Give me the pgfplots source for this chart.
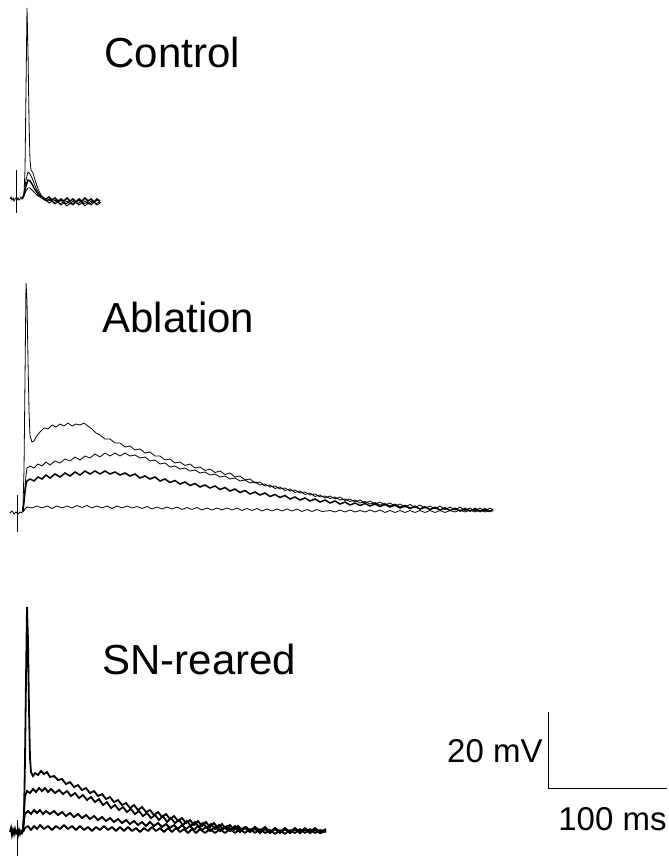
\documentclass[border=0pt]{standalone}
\usepackage{fontspec}
\setmainfont{Liberation Sans}
\usepackage{pgfplots}
\pgfplotsset{compat=1.18}
\begin{document}
\begin{tikzpicture}
\begin{axis}[
  scale only axis, width=334.5pt, height=431pt,
  xmin=0, xmax=669, ymin=0, ymax=862, y dir=reverse,
  hide axis, clip=false,
  cycle list={{black, solid, mark=none, line width=0.75pt, line join=round}},
]
\path[use as bounding box] (rel axis cs:0,0) rectangle (rel axis cs:1,1);
% ---------------- Control ----------------
\addplot coordinates {(16,170)(16,213)};
\addplot coordinates {(10,199)(11,197)(12,200)(13,198)(14,201)(15,199)(16,198)(17,200)(18,198)(19,200)(20,199)(21,197)(22,199)(23,198)(24,194)(25,170)(26,90)(27,8)(28,50)(29,120)(30,160)(31,170)(33,173)(35,180)(37,186)(39,191)(41,195)(43,197)(45,199)(48,201)(51,200)(54,203)(57,201)(60,204)(63,202)(66,204)(69,201)(72,204)(75,202)(78,204)(81,201)(84,204)(87,202)(90,204)(93,201)(96,204)(99,202)(101,203)};
\addplot coordinates {(22,199)(24,194)(26,180)(28,172)(30,174)(32,178)(34,183)(36,188)(38,192)(40,195)(43,198)(46,200)(49,203)(52,201)(55,204)(58,202)(61,205)(64,203)(67,206)(70,203)(73,205)(76,202)(79,205)(82,203)(85,206)(88,203)(91,205)(94,202)(97,205)(100,203)};
\addplot coordinates {(22,199)(24,195)(26,186)(28,180)(30,181)(32,184)(34,188)(36,191)(38,194)(40,196)(43,198)(46,199)(49,197)(52,200)(55,198)(58,201)(61,199)(64,201)(67,198)(70,201)(73,199)(76,202)(79,199)(82,201)(85,198)(88,201)(91,199)(94,202)(97,199)(100,201)};
\addplot coordinates {(22,199)(24,196)(26,191)(28,188)(30,188)(32,190)(34,192)(36,194)(38,196)(40,197)(43,199)(46,201)(49,199)(52,202)(55,200)(58,203)(61,200)(64,203)(67,201)(70,204)(73,201)(76,203)(79,200)(82,203)(85,201)(88,204)(91,201)(94,203)(97,200)(100,202)};
% ---------------- Ablation ----------------
\addplot coordinates {(17,495)(17,532)};
\addplot coordinates {(10,513)(12,511)(14,514)(16,512)(18,514)(20,512)(22,513)(23,506)(24,470)(25,380)(26,283)(27,300)(28,360)(29,410)(30,436)(32,442)(34,441)(36,437)(40,432)(44,428)(48,429)(52,425)(56,427)(60,424)(64,426)(68,423)(72,426)(76,424)(80,425)(84,423)(88,426)(92,429)(96,433)(100,435)(105,439)(110,439)(115,443)(120,443)(125,447)(130,446)(135,450)(140,449)(145,453)(150,452)(155,456)(160,456)(165,460)(170,459)(175,463)(180,462)(185,465.5)(190,464)(195,468)(200,467)(205,470.5)(210,469)(215,472.5)(220,471)(225,474.5)(230,473)(235,477)(240,476)(245,480)(250,479)(255,483)(260,482)(265,486)(270,485)(275,488.5)(280,487)(285,490.5)(290,489)(295,492.5)(300,491)(305,494.5)(310,493)(315,496.5)(320,495)(325,498)(330,496)(335,499)(340,497)(345,500.5)(350,499)(355,502)(360,500)(365,503)(370,501)(375,504)(380,502)(385,505)(390,503)(395,506)(400,504)(405,507)(410,504.5)(415,507.5)(420,505)(425,508)(430,506)(435,509)(440,506)(445,509.5)(450,507)(455,510)(460,507)(465,510.5)(470,508)(475,511)(480,508)(485,511)(490,508)(493,510)};
\addplot coordinates {(23,510)(24,500)(25,488)(26,475)(27,468)(30,466)(34,468)(38,464)(42,466)(46,462)(50,465)(55,461)(60,463)(65,459)(70,461)(75,457)(80,460)(85,456)(90,458)(95,454)(100,457)(105,453)(110,456)(115,453)(120,456)(125,453)(130,456)(135,455)(140,458)(145,457)(150,461)(155,460)(160,464)(165,463)(170,467)(175,466)(180,469)(185,468)(190,471)(195,470)(200,473)(205,472)(210,475)(215,474)(220,477)(225,476)(230,479)(235,478)(240,481)(245,480)(250,483)(255,482)(260,485)(265,484)(270,487)(275,486)(280,489)(285,488)(290,491)(295,490)(300,493)(305,492)(310,495)(315,494)(320,497)(325,496)(330,498.5)(335,497)(340,500)(345,499)(350,501.5)(355,500)(360,503)(365,501.5)(370,504)(375,502.5)(380,505)(385,503.5)(390,506)(395,504)(400,507)(405,505)(410,508)(415,506)(420,509)(425,506.5)(430,509.5)(435,507)(440,510)(445,507.5)(450,510.5)(455,508)(460,511)(465,508)(470,511)(475,508)(480,511)(485,508.5)(490,511)(493,509)};
\addplot coordinates {(23,511)(24,502)(25,492)(26,484)(27,481)(30,479)(34,481)(38,477)(42,479)(46,475)(50,478)(55,474)(60,477)(65,473)(70,476)(75,472)(80,475)(85,471)(90,474)(95,471)(100,474)(105,471)(110,474)(115,472)(120,475)(125,473)(130,476)(135,474)(140,478)(145,476)(150,479)(155,477)(160,481)(165,479)(170,482.5)(175,480.5)(180,484)(185,482)(190,485.5)(195,483.5)(200,487)(205,485)(210,488)(215,486)(220,489.5)(225,487.5)(230,491)(235,489)(240,492.5)(245,490.5)(250,494)(255,492)(260,495)(265,493)(270,496.5)(275,494.5)(280,497.5)(285,495.5)(290,499)(295,497)(300,500)(305,498)(310,501)(315,499)(320,502)(325,500)(330,503)(335,501)(340,504)(345,502)(350,505)(355,503)(360,505.5)(365,503.5)(370,506)(375,504)(380,506.5)(385,504.5)(390,507)(395,505)(400,508)(405,506)(410,508.5)(415,506.5)(420,509)(425,507)(430,509.5)(435,507.5)(440,510)(445,508)(450,510.5)(455,508.5)(460,511)(465,509)(470,511)(475,509)(480,511.5)(485,509.5)(490,511.5)(493,510)};
\addplot coordinates {(23,512)(25,509)(27,507)(32,508)(37,506)(42,508)(47,506)(52,508.5)(57,506)(62,508)(67,506)(72,508)(77,505.5)(82,507.5)(87,505.5)(92,508)(97,506)(102,508)(107,506)(112,508.5)(117,506)(122,508)(127,506)(132,508)(137,506.5)(142,508.5)(147,506.5)(152,509)(157,507)(162,509)(167,507)(172,509)(177,507)(182,509.5)(187,507.5)(192,509.5)(197,507.5)(202,510)(207,508)(212,510)(217,508)(222,510)(227,508)(232,510)(237,508)(242,510.5)(247,508.5)(252,510.5)(257,508.5)(262,511)(267,509)(272,511)(277,509)(282,511)(287,509)(292,511)(297,509)(302,511.5)(307,509.5)(312,511.5)(317,509.5)(322,511.5)(330,510.5)(335,512)(340,510)(345,512)(350,510)(355,512)(360,510.5)(365,512)(370,510)(375,512)(380,510)(385,512.5)(390,510.5)(395,512.5)(400,510.5)(405,512.5)(410,510.5)(415,512.5)(420,510.5)(425,512.5)(430,510.5)(435,512.5)(440,510.5)(445,512.5)(450,510.5)(455,512)(460,510)(465,512)(470,510)(475,512)(480,510)(485,512)(490,510.5)(493,511)};
% ---------------- SN-reared ----------------
\addplot coordinates {(17,820)(17,856)};
\addplot+[line width=0.9pt] coordinates {(10,832)(11,828)(12,835)(13,830)(14,834)(15,829)(16,833)(17,831)(18,835)(19,830)(20,834)(21,831)(22,833)(23,830)(24,815)(25,760)(26,680)(27,607)(28,640)(29,710)(30,758)(31,772)(33,776)(35,773)(38,775)(41,771)(44,774)(47,772)(50,777)(54,776)(58,780)(62,779)(66,784)(70,782)(74,787)(78,785)(82,790)(86,788)(90,793)(94,791)(98,796)(102,794)(106,799)(110,797)(114,802)(118,800)(122,805)(126,803)(130,808)(134,805)(138,810)(142,807)(146,812)(150,810)(154,815)(158,812)(162,817)(166,814)(170,819)(174,816)(178,821)(182,818)(186,823)(190,820)(194,825)(198,821)(202,826)(206,822)(210,827)(214,823)(218,828)(222,824)(226,829)(230,825)(234,830)(238,826)(242,830)(246,827)(250,831)(255,827)(260,831)(265,827)(270,832)(275,828)(280,832)(285,828)(290,832)(295,828)(300,832)(305,828)(310,832)(315,828)(320,832)(326,829)};
\addplot+[line width=0.9pt] coordinates {(23,831)(24,812)(25,796)(27,791)(30,793)(33,789)(36,792)(39,788)(42,791)(45,788)(48,792)(51,789)(55,793)(59,790)(63,794)(67,791)(71,796)(75,793)(79,798)(83,795)(87,800)(91,797)(95,802)(99,799)(103,805)(107,802)(111,808)(115,805)(119,810)(123,807)(127,812)(131,809)(135,814)(139,811)(143,816)(147,813)(151,818)(155,815)(159,820)(163,816)(167,822)(171,818)(175,823)(179,820)(183,825)(187,821)(191,826)(195,822)(199,827)(203,823)(207,828)(211,824)(215,829)(219,825)(223,829)(227,826)(231,830)(235,826)(240,830)(245,827)(250,831)(255,827)(260,831)(265,828)(270,832)(275,828)(280,832)(285,829)(290,833)(295,829)(300,833)(305,829)(310,833)(315,829)(320,833)(326,830)};
\addplot+[line width=0.9pt] coordinates {(23,831)(24,820)(25,814)(28,811)(31,814)(34,810)(37,813)(40,810)(43,814)(46,811)(50,814)(54,811)(58,815)(62,812)(66,816)(70,813)(74,817)(78,814)(82,818)(86,815)(90,819)(94,816)(98,820)(102,817)(106,821)(110,818)(114,822)(118,819)(122,823)(126,820)(130,824)(134,821)(138,825)(142,822)(146,826)(150,822)(154,826)(158,823)(162,827)(166,824)(170,828)(174,825)(178,829)(182,825)(186,829)(190,826)(194,830)(198,826)(202,830)(206,827)(210,831)(215,827)(220,831)(225,827)(230,831)(235,828)(240,832)(245,828)(250,832)(255,829)(260,833)(265,829)(270,833)(275,829)(280,833)(285,829)(290,833)(295,829)(300,833)(305,829)(310,833)(315,830)(320,833)(326,831)};
\addplot+[line width=0.9pt] coordinates {(23,832)(25,828)(28,826)(31,830)(34,826)(37,829)(40,825)(44,829)(48,826)(52,830)(56,826)(60,829)(64,825)(68,829)(72,826)(76,830)(80,826)(84,830)(88,827)(92,831)(96,827)(100,830)(104,826)(108,830)(112,827)(116,831)(120,827)(124,831)(128,827)(132,831)(136,828)(140,832)(144,828)(148,831)(152,827)(156,831)(160,828)(164,832)(168,828)(172,832)(176,828)(180,832)(184,829)(188,833)(192,829)(196,833)(200,829)(205,833)(210,829)(215,833)(220,829)(225,833)(230,829)(235,833)(240,829)(245,833)(250,829)(255,833)(260,829)(265,833)(270,830)(275,834)(280,830)(285,834)(290,830)(295,833)(300,829)(305,833)(310,829)(315,833)(320,830)(326,832)};
% ---------------- scale bar ----------------
\addplot[black, mark=none, line width=0.5pt] coordinates {(548,712)(548,788)(667,788)};
% ---------------- labels ----------------
\node[anchor=base west, font=\fontsize{21}{21}\selectfont, inner sep=0pt] at (104,67) {Control};
\node[anchor=base west, font=\fontsize{21}{21}\selectfont, inner sep=0pt] at (102,332) {Ablation};
\node[anchor=base west, font=\fontsize{21}{21}\selectfont, inner sep=0pt] at (102,674) {SN-reared};
\node[anchor=base east, font=\fontsize{16.5}{16.5}\selectfont, inner sep=0pt] at (543,762) {20 mV};
\node[anchor=base east, font=\fontsize{16.5}{16.5}\selectfont, inner sep=0pt] at (667,830) {100 ms};
\end{axis}
\end{tikzpicture}
\end{document}
